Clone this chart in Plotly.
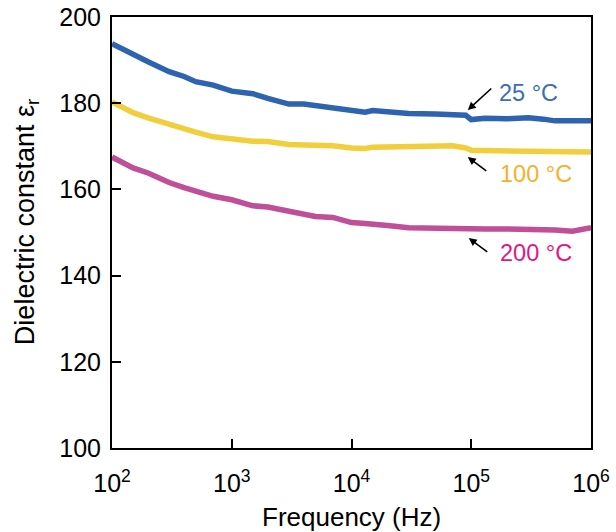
import plotly.graph_objects as go

freq = [100, 150, 200, 300, 400, 500, 700, 1000, 1500, 2000, 3000, 4000, 5000, 7000,
        10000, 13000, 15000, 20000, 30000, 50000, 70000, 90000, 100000, 130000,
        200000, 300000, 400000, 500000, 700000, 1000000]

eps_25 = [193.8, 191.2, 189.6, 187.3, 186.2, 185.0, 184.2, 182.8, 182.2, 181.1, 179.8, 179.8,
          179.5, 178.8, 178.4, 177.9, 178.3, 178.0, 177.6, 177.5, 177.5, 177.2, 176.2, 176.5,
          176.4, 176.6, 176.3, 175.9, 175.9, 175.9]
eps_100 = [180.3, 177.8, 176.6, 175.0, 174.0, 173.3, 172.2, 171.6, 171.2, 171.1, 170.4, 170.3,
           170.2, 170.1, 169.6, 169.5, 169.8, 169.8, 169.9, 169.9, 170.1, 169.6, 169.1, 169.0,
           168.9, 168.9, 168.8, 168.8, 168.7, 168.7]
eps_200 = [167.5, 165.0, 163.8, 161.6, 160.4, 159.5, 158.4, 157.6, 156.2, 155.9, 155.0, 154.2,
           153.7, 153.5, 152.3, 152.1, 152.0, 151.6, 151.1, 150.9, 150.8, 150.8, 150.8, 150.8,
           150.8, 150.8, 150.8, 150.6, 150.3, 151.1]

x_tickvals = [1e2, 1e3, 1e4, 1e5, 1e6]
x_ticktext = ["10<sup>2</sup>", "10<sup>3</sup>", "10<sup>4</sup>", "10<sup>5</sup>", "10<sup>6</sup>"]
y_tickvals = [100, 120, 140, 160, 180, 200]

series = [
    ("25 °C", eps_25, "#2e63b0", "#3b6db8"),
    ("100 °C", eps_100, "#f1cf3c", "#f7b02c"),
    ("200 °C", eps_200, "#bf4f98", "#e3167f"),
]

FONT = "Liberation Sans, Arial, Helvetica, sans-serif"

fig = go.Figure()
for name, vals, lc, _ in series:
    fig.add_trace(go.Scatter(x=freq, y=vals, mode="lines", name=name,
                             line=dict(color=lc, width=5.5), showlegend=False))

# labels with arrows (head position in data coords, tail offset in px)
labels = [
    ("25 °C", 4.971, 178.4, 25, -23, 5.213, 182.4, "#3b6db8"),
    ("100 °C", 4.971, 167.5, 20, 15, 5.222, 163.6, "#f7b02c"),
    ("200 °C", 4.979, 148.7, 20, 15, 5.222, 145.2, "#e3167f"),
]
for text, hx, hy, ax, ay, tx, ty, col in labels:
    fig.add_annotation(x=hx, y=hy, xref="x", yref="y", ax=ax, ay=ay, axref="pixel", ayref="pixel",
                       text="", showarrow=True, arrowhead=2, arrowsize=1, arrowwidth=1.6,
                       arrowcolor="black")
    fig.add_annotation(x=tx, y=ty, xref="x", yref="y", text=text, showarrow=False,
                       xanchor="left", yanchor="middle",
                       font=dict(family=FONT, size=23.5, color=col))

# axis titles
fig.add_annotation(x=0.5, y=-0.160, xref="paper", yref="paper", text="Frequency (Hz)",
                   showarrow=False, xanchor="center", yanchor="middle",
                   font=dict(family=FONT, size=26, color="black"))
fig.add_annotation(x=-0.1775, y=0.524, xref="paper", yref="paper",
                   text="Dielectric constant ε<sub>r</sub>", textangle=-90,
                   showarrow=False, xanchor="center", yanchor="middle",
                   font=dict(family=FONT, size=27, color="black"))

fig.update_xaxes(type="log", range=[2, 6], tickvals=x_tickvals, ticktext=x_ticktext,
                 showline=True, linecolor="black", linewidth=2, mirror=True,
                 ticks="inside", ticklen=9, tickwidth=1.5, tickcolor="black",
                 showgrid=False, zeroline=False, ticklabelstandoff=12, automargin=False,
                 tickfont=dict(family=FONT, size=25, color="black"))
fig.update_yaxes(range=[100, 200], tickvals=y_tickvals,
                 showline=True, linecolor="black", linewidth=2, mirror=True,
                 ticks="inside", ticklen=9, tickwidth=1.5, tickcolor="black",
                 showgrid=False, zeroline=False, ticklabelstandoff=4, automargin=False,
                 tickfont=dict(family=FONT, size=25, color="black"))

fig.update_layout(width=616, height=532, margin=dict(l=112, r=25, t=17, b=84),
                  plot_bgcolor="white", paper_bgcolor="white")

fig.write_html("out.html")
